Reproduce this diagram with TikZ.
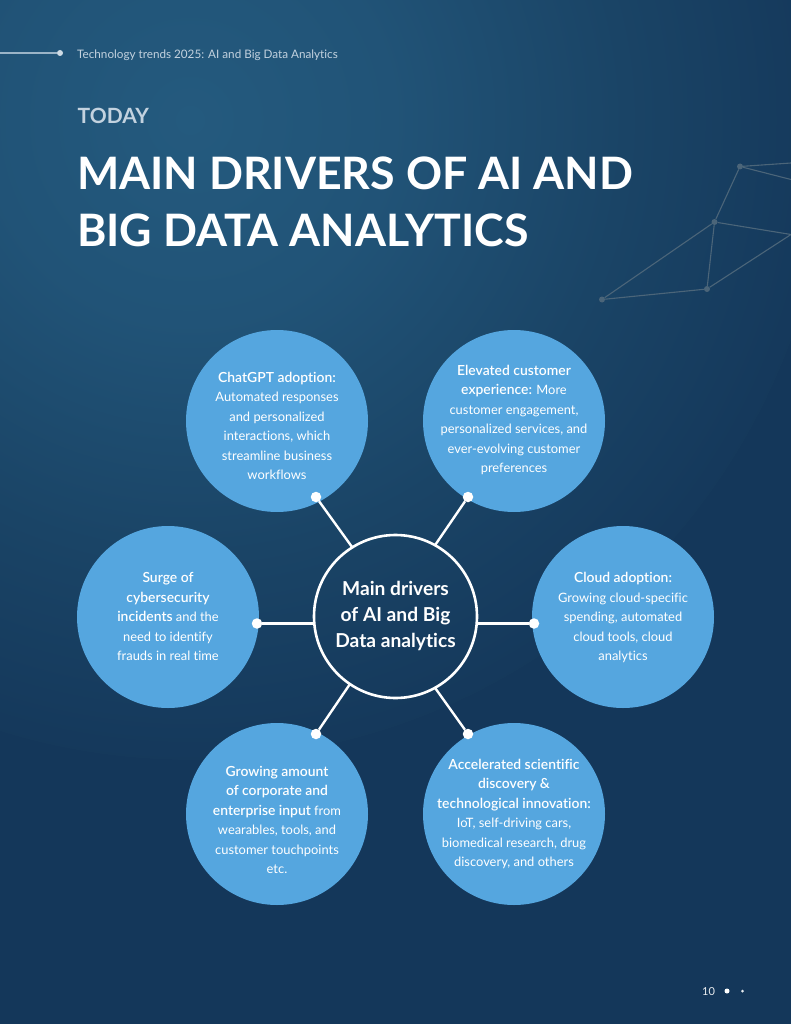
\documentclass[tikz,border=0pt]{standalone}
\usepackage{fontspec}
\setmainfont{Lato}[Ligatures=NoCommon]
\newfontfamily\lightf{Lato}[Ligatures=NoCommon]
\newfontfamily\medf{Lato Semibold}[Ligatures=NoCommon]
\newfontfamily\boldf{Lato Bold}[Ligatures=NoCommon]
\definecolor{bgdark}{HTML}{14375A}
\definecolor{bgmid}{HTML}{1A4466}
\definecolor{bglight}{HTML}{245A7E}
\definecolor{bubble}{HTML}{55A6DF}
\definecolor{netc}{HTML}{4B6579}
\definecolor{headc}{HTML}{C3D2DF}
\pgfdeclareradialshading{bgglow}{\pgfpointorigin}{color(0bp)=(bglight); color(8bp)=(bglight!80!bgdark); color(17bp)=(bgmid); color(26bp)=(bgdark); color(100bp)=(bgdark)}
\tikzset{
  bubblec/.style={circle,fill=bubble,minimum size=182pt,inner sep=0pt,outer sep=0pt},
  bubt/.style={text=white,align=center,inner sep=0pt,font=\lightf\fontsize{12.9}{19.5}\selectfont},
  dotn/.style={circle,fill=white,minimum size=10.5pt,inner sep=0pt,outer sep=0pt},
  conn/.style={draw=white,line width=2.4pt},
  netl/.style={draw=netc,line width=1.1pt},
  netd/.style={circle,fill=netc,minimum size=6pt,inner sep=0pt},
}
\newcommand{\bb}[1]{{\medf\fontsize{13.9}{19.5}\selectfont #1}}
\begin{document}
\begin{tikzpicture}[x=1pt,y=-1pt]
\useasboundingbox (0,0) rectangle (791,1024);
\fill[bgdark] (0,0) rectangle (791,1024);
\begin{scope}
\clip (0,0) rectangle (791,1024);
\shade[shading=bgglow] (190,120) circle (640);
\end{scope}

% network
\node[netd] (n1) at (740,166.5) {};
\node[netd] (n2) at (714.5,222) {};
\node[netd] (n3) at (707,289) {};
\node[netd] (n4) at (602,299.5) {};
\coordinate (e1) at (791,163);
\coordinate (e2) at (791,179.5);
\coordinate (e3) at (791,234.5);
\draw[netl] (n1)--(e1) (n1)--(e2) (n1)--(n2) (n2)--(e3) (n2)--(n3) (n2)--(n4) (n3)--(n4) (n3)--(e3);

% header
\node[circle,fill=headc!80!white,minimum size=6pt,inner sep=0pt] (hd) at (60,53) {};
\coordinate (h0) at (0,53);
\draw[draw=headc!75!bglight,line width=1.1pt] (h0)--(hd);
\node[anchor=west,inner sep=0pt,text=headc,font=\fontsize{11.7}{13}\selectfont\lightf] (ht) at (77,55.5) {Technology trends 2025: AI and Big Data Analytics};
\node[anchor=west,inner sep=0pt,text=headc,font=\boldf\fontsize{21}{24}\selectfont] (today) at (77.5,115.5) {TODAY};
\node[anchor=west,inner sep=0pt,text=white,font=\boldf\fontsize{44.7}{50}\selectfont] (t1) at (77,173) {MAIN DRIVERS OF AI AND};
\node[anchor=west,inner sep=0pt,text=white,font=\boldf\fontsize{44.7}{50}\selectfont] (t2) at (77,230) {BIG DATA ANALYTICS};

% bubbles
\node[bubblec] (c1) at (277,421) {};
\node[bubblec] (c2) at (514,421) {};
\node[bubblec] (c3) at (168,617) {};
\node[bubblec] (c4) at (623,617) {};
\node[bubblec] (c5) at (277,814) {};
\node[bubblec] (c6) at (514,814) {};

\node[bubt] (b1) at (277,426) {\bb{ChatGPT adoption:}\\Automated responses\\and personalized\\interactions, which\\streamline business\\workflows};
\node[bubt] (b2) at (514,420) {\bb{Elevated customer}\\\bb{experience:} More\\customer engagement,\\personalized services, and\\ever-evolving customer\\preferences};
\node[bubt] (b3) at (168,616.5) {\bb{Surge of}\\\bb{cybersecurity}\\\bb{incidents} and the\\need to identify\\frauds in real time};
\node[bubt] (b4) at (623,617.5) {\bb{Cloud adoption:}\\Growing cloud-specific\\spending, automated\\cloud tools, cloud\\analytics};
\node[bubt] (b5) at (277,820) {\bb{Growing amount}\\\bb{of corporate and}\\\bb{enterprise input} from\\wearables, tools, and\\customer touchpoints\\etc.};
\node[bubt] (b6) at (514,814) {\bb{Accelerated scientific}\\\bb{discovery \&}\\\bb{technological innovation:}\\IoT, self-driving cars,\\biomedical research, drug\\discovery, and others};

% centre
\node[circle,draw=white,line width=2.6pt,minimum size=163pt,inner sep=0pt,outer sep=0pt] (m) at (395.5,616.5) {};
\node[inner sep=0pt,text=white,align=center,font=\boldf\fontsize{19.2}{26}\selectfont] (mt) at (395.5,616) {Main drivers\\of AI and Big\\Data analytics};

% dots and connectors
\node[dotn] (d1) at (316,497) {};
\node[dotn] (d2) at (468,497) {};
\node[dotn] (d3) at (257,623.5) {};
\node[dotn] (d4) at (534,623.5) {};
\node[dotn] (d5) at (316,734) {};
\node[dotn] (d6) at (468,734) {};
\draw[conn] (d1)--(m.122.7);
\draw[conn] (d2)--(m.61.6);
\draw[conn] (d3)--(d3 -| m.west);
\draw[conn] (d4)--(d4 -| m.east);
\draw[conn] (d5)--(m.236.4);
\draw[conn] (d6)--(m.299.7);

% footer
\node[inner sep=0pt,text=white!90!bgdark,font=\lightf\fontsize{11}{13}\selectfont] (pg) at (708.5,991.5) {10};
\node[circle,fill=white,minimum size=5pt,inner sep=0pt] (f1) at (727,991) {};
\node[circle,fill=white!90!bgdark,minimum size=3pt,inner sep=0pt] (f2) at (742.5,991) {};
\end{tikzpicture}
\end{document}
